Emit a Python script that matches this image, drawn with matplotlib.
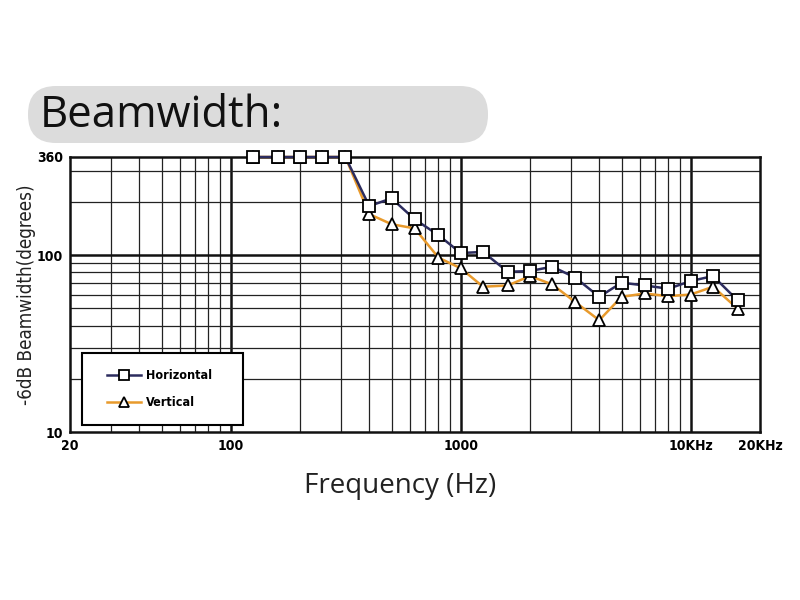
import matplotlib
matplotlib.use("Agg")
import matplotlib.pyplot as plt
from matplotlib.patches import FancyBboxPatch, Rectangle
import numpy as np

freqs = [125, 160, 200, 250, 315, 400, 500, 630, 800, 1000, 1250, 1600,
         2000, 2500, 3150, 4000, 5000, 6300, 8000, 10000, 12500, 16000]
horizontal = [360, 360, 360, 360, 360, 190, 210, 160, 130, 103, 104.5, 80.7,
              81.4, 86.3, 74.7, 58.2, 70.0, 67.5, 64.7, 71.5, 76.3, 55.5]
vertical = [360, 360, 360, 360, 360, 171, 150, 142, 97, 84.4, 66.4, 67.5,
            76.3, 68.4, 54.3, 42.9, 58.2, 60.8, 58.7, 60.0, 66.4, 49.8]
xticks = [20, 100, 1000, 10000, 20000]
xticklabels = ["20", "100", "1000", "10KHz", "20KHz"]
yticks = [10, 100, 360]
yticklabels = ["10", "100", "360"]

narrow = ["DejaVu Sans"]

fig = plt.figure(figsize=(8, 6), dpi=100)
fig.patch.set_facecolor("white")

# Title banner
banner = FancyBboxPatch((28 / 800, 1 - 143 / 600), 460 / 800, 57 / 600,
                        boxstyle="round,pad=0,rounding_size=0.035",
                        transform=fig.transFigure, facecolor="#dcdcdc",
                        edgecolor="none", mutation_aspect=800 / 600)
fig.patches.append(banner)
fig.text(40 / 800, 1 - 116 / 600, "Beamwidth:", fontsize=31.5,
         family=["Open Sans", "DejaVu Sans"], va="center", ha="left",
         color="#111111")

ax = fig.add_axes([70 / 800, 1 - 432 / 600, 690 / 800, 275 / 600])
ax.set_xscale("log")
ax.set_yscale("log")
ax.set_xlim(20, 20000)
ax.set_ylim(10, 360)

# grid
minor_x = [m * 10 ** d for d in range(1, 5) for m in range(2, 10)
           if 20 < m * 10 ** d < 20000]
minor_y = [m * 10 for m in range(2, 10)] + [200, 300]
for v in minor_x:
    ax.axvline(v, color="#222222", lw=0.9, zorder=1)
for v in [100, 1000, 10000]:
    ax.axvline(v, color="#111111", lw=1.8, zorder=1)
for v in minor_y:
    ax.axhline(v, color="#222222", lw=0.9, zorder=1)
ax.axhline(100, color="#111111", lw=1.8, zorder=1)

ax.plot(freqs, vertical, color="#e89a2c", lw=1.8, marker="^", ms=9,
        mfc="white", mec="black", mew=1.3, label="Vertical", zorder=3,
        clip_on=False)
ax.plot(freqs, horizontal, color="#2c2c5e", lw=1.8, marker="s", ms=8.5,
        mfc="white", mec="black", mew=1.3, label="Horizontal", zorder=4,
        clip_on=False)

ax.xaxis.set_minor_locator(matplotlib.ticker.NullLocator())
ax.yaxis.set_minor_locator(matplotlib.ticker.NullLocator())
ax.set_xticks(xticks)
ax.set_xticklabels(xticklabels, family=narrow, fontsize=10,
                   fontweight="bold", fontstretch="condensed")
ax.set_yticks(yticks)
ax.set_yticklabels(yticklabels, family=narrow, fontsize=10,
                   fontweight="bold", fontstretch="condensed")
ax.tick_params(length=0, pad=5)
for s in ax.spines.values():
    s.set_linewidth(1.8)
    s.set_color("#111111")

fig.text(400 / 800, 1 - 486 / 600, "Frequency (Hz)", fontsize=20,
         family=["Open Sans", "DejaVu Sans"], ha="center", va="center",
         color="#222222")
fig.text(27 / 800, 1 - 295 / 600, "-6dB Beamwidth(degrees)", fontsize=13.5,
         family=narrow, fontstretch="condensed",
         rotation=90, ha="center", va="center", color="#222222")

# legend box
box = Rectangle((12 / 690, 7 / 275), 161 / 690, 72 / 275,
                transform=ax.transAxes, facecolor="white",
                edgecolor="black", lw=1.5, zorder=5)
ax.add_patch(box)
handles, labels = ax.get_legend_handles_labels()
leg = ax.legend(handles[::-1], labels[::-1], loc="center left",
                bbox_to_anchor=(37 / 690, 43 / 275), frameon=False,
                borderpad=0, labelspacing=1.1, handlelength=2.7,
                handletextpad=0.4, borderaxespad=0,
                prop={"family": narrow, "size": 9, "weight": "bold",
                      "stretch": "condensed"})
leg.set_zorder(6)
for h in leg.legend_handles:
    h.set_markersize(7.5)

fig.savefig("out.png", dpi=100, facecolor="white")
